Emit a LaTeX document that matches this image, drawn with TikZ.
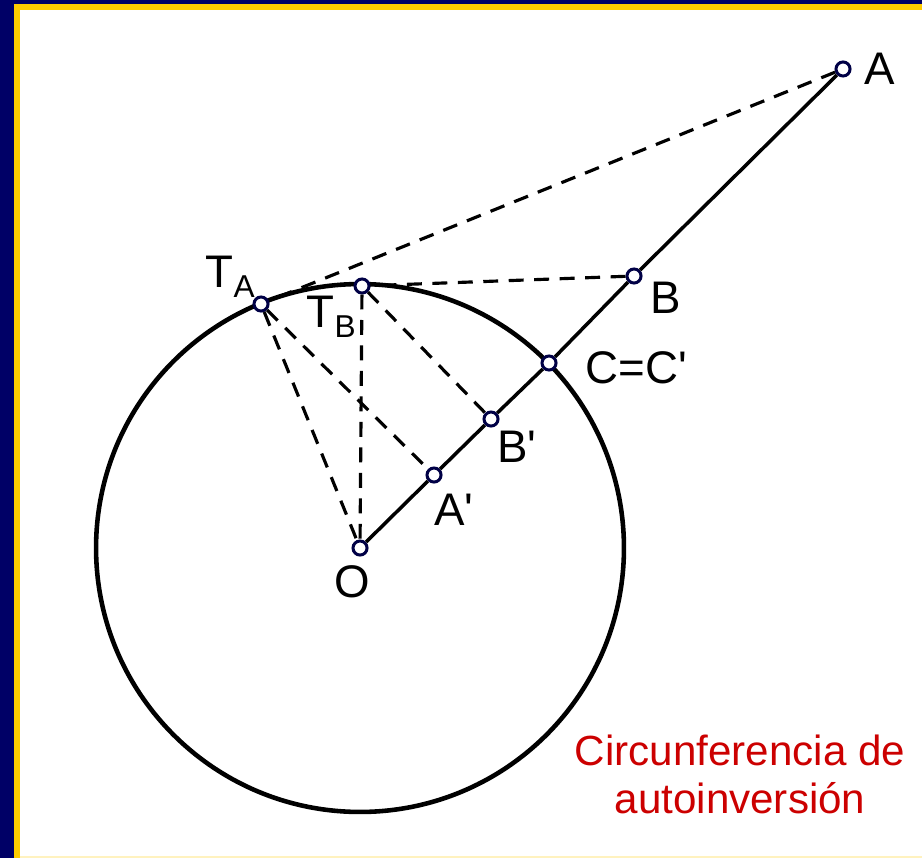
\documentclass[tikz,border=0pt]{standalone}
\usepackage{fontspec}
\setmainfont{Liberation Sans}
\usetikzlibrary{positioning}

\definecolor{framenavy}{RGB}{0,0,102}
\definecolor{framegold}{RGB}{255,204,0}
\definecolor{ptnavy}{RGB}{0,0,70}
\definecolor{capred}{RGB}{204,0,0}
\newcommand{\subidx}[1]{\raisebox{-6pt}{\fontsize{18}{18}\selectfont #1}}

\tikzset{
    pt/.style={circle, draw=ptnavy, fill=white, line width=1.7pt, minimum size=8pt, inner sep=0pt},
    lbl/.style={inner sep=0pt, font=\fontsize{26}{30}\selectfont},
    seg/.style={line width=2pt},
    tang/.style={line width=1.8pt, dash pattern=on 8.5pt off 6pt},
}

\begin{document}
\begin{tikzpicture}[x=0.02cm, y=-0.02cm]
    \useasboundingbox (0,0) rectangle (922,858);

    % Frame
    \fill[white] (0,0) rectangle (922,858);
    \fill[framenavy] (0,0) rectangle (14,858);
    \fill[framenavy] (0,0) rectangle (922,4);
    \fill[framegold] (14,4) rectangle (20,858);
    \fill[framegold] (14,4) rectangle (922,10);
    \fill[framegold!25] (20,856) rectangle (922,858);

    % Circle of self-inversion
    \coordinate (c) at (360,548);
    \draw[line width=2.6pt] (c) circle[radius=5.28cm];

    % Points
    \node[pt] (O) at (c) {};
    \node[pt] (A) at (843,69) {};
    \node[pt] (B) at (634,276) {};
    \node[pt] (C) at (549,363) {};
    \node[pt] (Bp) at (491,419) {};
    \node[pt] (Ap) at (434,475) {};
    \node[pt] (TA) at (261,304) {};
    \node[pt] (TB) at (362,286) {};

    % Ray from O
    \draw[seg] (O) -- (Ap) -- (Bp) -- (C) -- (B) -- (A);

    % Tangents and projections
    \draw[tang] (A) -- (TA);
    \draw[tang] (B) -- (TB);
    \draw[tang] (TA) -- (O);
    \draw[tang] (TA) -- (Ap);
    \draw[tang] (TB) -- (O);
    \draw[tang] (TB) -- (Bp);

    % Labels
    \node[lbl, right=7pt of A] (lA) {A};
    \node[lbl, below right=0pt and 6pt of B] (lB) {B};
    \node[lbl, right=16pt of C, yshift=-3pt] (lC) {C=C\textquotesingle};
    \node[lbl, below right=3pt and 0pt of Bp] (lBp) {B\textquotesingle};
    \node[lbl, below right=7pt and -3.5pt of Ap] (lAp) {A\textquotesingle};
    \node[lbl, below=5pt of O, xshift=-4.5pt] (lO) {O};
    \node[lbl, above left=0pt of TA] (lTA) {T\subidx{A}};
    \node[lbl, below left=2pt and 0pt of TB] (lTB) {T\subidx{B}};

    \node[inner sep=0pt, align=center, text=capred, font=\fontsize{24}{27.3}\selectfont] (cap) at (740,774) {Circunferencia de\\autoinversión};
\end{tikzpicture}
\end{document}
